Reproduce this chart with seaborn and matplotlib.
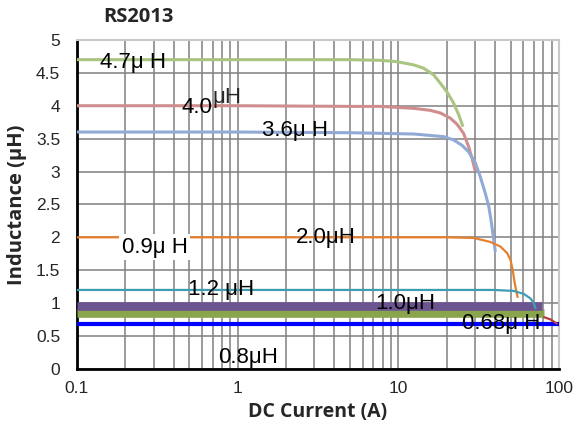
import numpy as np
import pandas as pd
import matplotlib
matplotlib.use("Agg")
import matplotlib.pyplot as plt
import seaborn as sns
from matplotlib.ticker import FixedLocator, LogLocator, FuncFormatter, NullFormatter

# curves: DC current (A) vs inductance (uH)
x_47 = [0.1, 1, 5, 7.7, 9.8, 12.5, 14.4, 16.6, 18.3, 20.1, 22.1, 23.8, 25.3]
y_47 = [4.7, 4.7, 4.7, 4.69, 4.67, 4.62, 4.57, 4.47, 4.34, 4.21, 4.04, 3.86, 3.68]
x_40 = [0.1, 1, 5, 7.7, 12.5, 15.8, 18.3, 21.1, 23.2, 25.5, 27.4, 28.8, 30.2]
y_40 = [4.0, 4.0, 3.99, 3.99, 3.96, 3.93, 3.89, 3.81, 3.72, 3.58, 3.38, 3.2, 3.0]
x_36 = [0.1, 1, 5, 12.5, 19.2, 22.1, 24.9, 27.4, 30.2, 32.4, 34.8, 36.6, 37.8, 39.3, 40.2]
y_36 = [3.6, 3.6, 3.59, 3.57, 3.53, 3.48, 3.4, 3.3, 3.13, 2.92, 2.67, 2.47, 2.26, 1.96, 1.78]
x_20 = [0.1, 1, 20.1, 29.5, 37.4, 43.2, 47.6, 49.9, 51.6, 53.1, 55.4]
y_20 = [2.0, 2.0, 2.0, 1.99, 1.93, 1.86, 1.76, 1.66, 1.5, 1.3, 1.08]
x_12 = [0.1, 1, 39.3, 52.3, 60.4, 66.6, 69.7, 71.7]
y_12 = [1.2, 1.2, 1.2, 1.185, 1.14, 1.07, 1.0, 0.91]
x_10 = [0.1, 78]
y_10 = [0.95, 0.95]
x_08 = [0.1, 81]
y_08 = [0.855, 0.855]
x_068 = [0.1, 100]
y_068 = [0.68, 0.68]
x_tail = [80, 89, 98]
y_tail = [0.79, 0.75, 0.68]

# in-plot labels
lbl_text = ["4.7μ H", "4.0", "3.6μ H", "0.9μ H", "2.0μH", "1.2 μH", "1.0μH", "0.68μ H", "0.8μH"]
lbl_x = [0.139, 0.45, 1.42, 0.19, 2.3, 0.49, 7.2, 25, 0.76]
lbl_y = [4.65, 3.98, 3.62, 1.85, 1.99, 1.2, 1.0, 0.69, 0.18]

sns.set_style("white")
plt.rcParams['font.family'] = ['Liberation Sans', 'DejaVu Sans']
bold_font = ["Open Sans", "DejaVu Sans"]

fig = plt.figure(figsize=(5.78, 4.34), dpi=100)
ax = fig.add_axes([0.133, 0.150, 0.834, 0.758])

series = [
    (x_08, y_08, "#8AA44B", 6.2),
    (x_10, y_10, "#6C5491", 6.2),
    (x_068, y_068, "#0000FF", 3.0),
    (x_tail, y_tail, "#B0413E", 1.6),
    (x_47, y_47, "#A9C580", 2.2),
    (x_40, y_40, "#CF8E8D", 2.2),
    (x_36, y_36, "#90AAD5", 2.2),
    (x_20, y_20, "#E5802F", 1.6),
    (x_12, y_12, "#3F9DB2", 1.6),
]
for xs, ys, c, lw in series:
    sns.lineplot(x=xs, y=ys, color=c, linewidth=lw, ax=ax,
                 solid_capstyle="butt", zorder=3)

ax.set_xscale("log")
ax.set_xlim(0.1, 100)
ax.set_ylim(0, 5)
ax.xaxis.set_major_locator(FixedLocator([0.1, 1, 10, 100]))
ax.xaxis.set_major_formatter(FuncFormatter(lambda v, p: "%g" % v))
ax.xaxis.set_minor_locator(LogLocator(base=10, subs=np.arange(2, 10)))
ax.xaxis.set_minor_formatter(NullFormatter())
ax.set_yticks(np.arange(0, 5.01, 0.5))
ax.yaxis.set_major_formatter(FuncFormatter(lambda v, p: "%g" % v))

ax.grid(True, which="both", axis="x", color="#808080", linewidth=1.1)
ax.grid(True, which="major", axis="y", color="#808080", linewidth=1.1)
ax.set_axisbelow(True)

ax.tick_params(axis="y", which="both", length=0, pad=12, labelsize=12.5)
ax.tick_params(axis="x", which="major", direction="in", length=4, width=1.2,
               color="black", pad=9, labelsize=12.5)
ax.tick_params(axis="x", which="minor", length=0)

for s in ["left", "bottom"]:
    ax.spines[s].set_color("black")
    ax.spines[s].set_linewidth(2)
for s in ["top", "right"]:
    ax.spines[s].set_color("#C8C8C8")
    ax.spines[s].set_linewidth(1.5)

for t, xv, yv in zip(lbl_text, lbl_x, lbl_y):
    kw = {}
    if t.startswith("0.9"):
        kw["bbox"] = dict(facecolor="white", edgecolor="none", pad=2)
    ax.text(xv, yv, t, fontsize=16, ha="left", va="center", color="black",
            zorder=5, **kw)
# the raised unit of the 4.0 label
ax.text(0.70, 4.12, "μH", fontsize=16, ha="left", va="center", zorder=5)

ax.set_xlabel("DC Current (A)", fontsize=14, fontweight="bold",
              family=bold_font, labelpad=4)
ax.set_ylabel("Inductance (μH)", fontsize=14.5, fontweight="bold",
              family=bold_font, labelpad=6)
fig.text(0.239, 0.961, "RS2013", fontsize=14.5, fontweight="bold",
         family=bold_font, ha="center", va="center")

fig.savefig("out.png", dpi=100)
